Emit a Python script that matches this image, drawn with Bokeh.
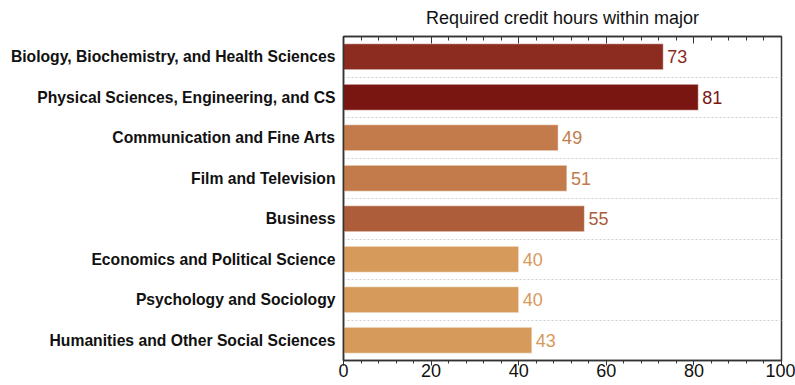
from bokeh.plotting import figure
from bokeh.models import Range1d, FixedTicker, LinearAxis, SingleIntervalTicker, ColumnDataSource
from bokeh.embed import file_html
from bokeh.resources import INLINE
from bokeh.core.properties import value

categories = [
    "Biology, Biochemistry, and Health Sciences",
    "Physical Sciences, Engineering, and CS",
    "Communication and Fine Arts",
    "Film and Television",
    "Business",
    "Economics and Political Science",
    "Psychology and Sociology",
    "Humanities and Other Social Sciences",
]
credit_hours = [73, 81, 49, 51, 55, 40, 40, 43]
bar_colors = ["#8C2B1F", "#7A1611", "#C47B4B", "#C47B4B", "#AD5D3A", "#D69A5B", "#D69A5B", "#D69A5B"]
title_text = "Required credit hours within major"
x_min, x_max = 0, 100
x_ticks_interval = 20

n = len(categories)
positions = list(range(n))
src = ColumnDataSource(dict(
    y=positions,
    v=credit_hours,
    lbl=[str(v) for v in credit_hours],
    c=bar_colors,
))

FONT = "Liberation Sans"
AX = "#333333"

p = figure(width=795, height=385, x_range=Range1d(x_min, x_max), y_range=Range1d(n - 0.5, -0.5),
           output_backend="svg", toolbar_location=None,
           min_border_left=343, min_border_right=14, min_border_top=36, min_border_bottom=25)
p.outline_line_color = AX
p.outline_line_width = 1.5
p.background_fill_color = "white"
p.border_fill_color = "white"

p.hbar(y="y", right="v", left=0, height=0.64, source=src, fill_color="c",
       line_color="white", line_alpha=0.5, line_width=1)
p.text(x="v", y="y", text="lbl", source=src, x_offset=4, text_color="c",
       text_baseline="middle", text_align="left", text_font=value(FONT), text_font_size="18px")

# grid between categories
p.xgrid.visible = False
p.ygrid.ticker = FixedTicker(ticks=[i + 0.5 for i in range(n - 1)])
p.ygrid.grid_line_color = "#cfcfcf"
p.ygrid.grid_line_dash = "2 2"
p.ygrid.grid_line_width = 1

# left axis with category names
ya = p.yaxis[0]
ya.ticker = FixedTicker(ticks=positions)
ya.major_label_overrides = {i: c for i, c in zip(positions, categories)}
ya.major_tick_line_color = None
ya.minor_tick_line_color = None
ya.major_tick_in = 0
ya.major_tick_out = 0
ya.minor_tick_in = 0
ya.minor_tick_out = 0
ya.axis_line_color = AX
ya.axis_line_width = 1.5
ya.major_label_standoff = 8
ya.major_label_text_font = FONT
ya.major_label_text_font_style = "bold"
ya.major_label_text_font_size = "15.7px"
ya.major_label_text_color = "#111111"

# bottom axis
xa = p.xaxis[0]
xa.ticker = SingleIntervalTicker(interval=x_ticks_interval, num_minor_ticks=5)
xa.axis_line_color = AX
xa.axis_line_width = 1.5
xa.major_tick_line_color = AX
xa.minor_tick_line_color = AX
xa.major_tick_in = 0
xa.major_tick_out = 5
xa.minor_tick_in = 0
xa.minor_tick_out = 3
xa.major_label_standoff = -2
xa.major_label_text_font = FONT
xa.major_label_text_font_size = "18px"
xa.major_label_text_line_height = 1.0
xa.major_label_text_color = "#111111"

# top axis (mirror ticks, carries the title)
tick_vals = list(range(x_min, x_max + 1, x_ticks_interval))
ta = LinearAxis(ticker=SingleIntervalTicker(interval=x_ticks_interval, num_minor_ticks=5),
                axis_label=title_text)
ta.axis_line_color = AX
ta.axis_line_width = 1.5
ta.major_tick_line_color = AX
ta.minor_tick_line_color = AX
ta.major_tick_in = 7
ta.major_tick_out = 0
ta.minor_tick_in = 4
ta.minor_tick_out = 0
ta.major_label_overrides = {v: "" for v in tick_vals}
ta.major_label_standoff = 0
ta.axis_label_standoff = 9
ta.axis_label_text_font = FONT
ta.axis_label_text_font_style = "normal"
ta.axis_label_text_font_size = "18px"
ta.axis_label_text_color = "#111111"
p.add_layout(ta, "above")

open("out.html", "w").write(file_html(p, INLINE))
